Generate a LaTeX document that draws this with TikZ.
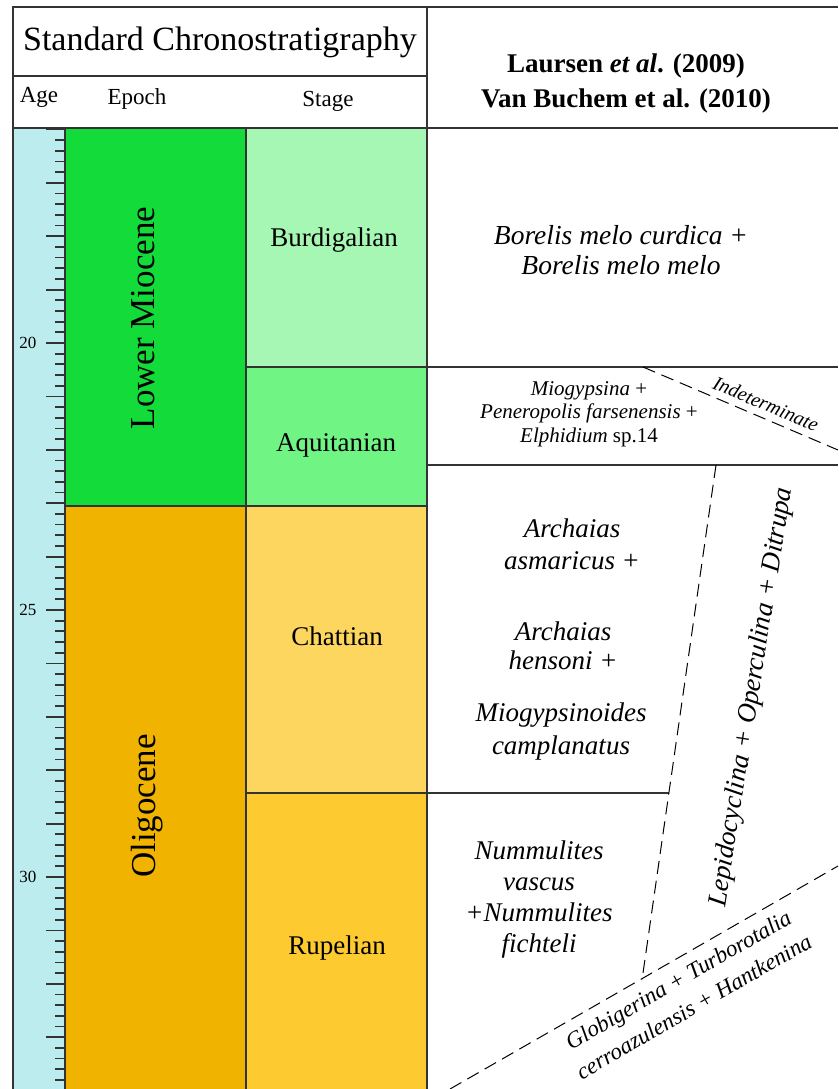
\documentclass[tikz,border=0pt]{standalone}
\usepackage{xcolor}
\usepackage{fontspec}
\setmainfont{Liberation Serif}
\usepackage{tikz}

\definecolor{agecol}{HTML}{BDECEE}
\definecolor{miocene}{HTML}{12DB3A}
\definecolor{burdigal}{HTML}{A6F7B3}
\definecolor{aquitan}{HTML}{70F484}
\definecolor{oligocene}{HTML}{F0B400}
\definecolor{chattian}{HTML}{FDD660}
\definecolor{rupelian}{HTML}{FDCA30}
\definecolor{rule}{HTML}{333333}

% font size and baseline skip, both in pt
\newcommand{\fsz}[2]{\fontsize{#1}{#2}\selectfont}

\begin{document}
\begin{tikzpicture}[x=1pt,y=-1pt]
\useasboundingbox (0,0) rectangle (838,1089);
% colour blocks
\fill[agecol] (13,128) rectangle (65,1089);
\fill[miocene] (65,128) rectangle (246,506);
\fill[oligocene] (65,506) rectangle (246,1089);
\fill[burdigal] (246,128) rectangle (427,367);
\fill[aquitan] (246,367) rectangle (427,506);
\fill[chattian] (246,506) rectangle (427,793);
\fill[rupelian] (246,793) rectangle (427,1089);
% age scale
\foreach \i in {0,...,89} {
  \pgfmathsetmacro{\ty}{129.4+10.68*\i}
  \pgfmathtruncatemacro{\md}{mod(\i,5)}
  \ifnum\md=0
    \draw[line width=1.8pt, rule] (46,\ty) -- (65,\ty);
  \else
    \draw[line width=1.8pt, rule] (55,\ty) -- (65,\ty);
  \fi
}
\node[font=\fsz{17}{20}] (a20) at (28,343) {20};
\node[font=\fsz{17}{20}] (a25) at (28,610) {25};
\node[font=\fsz{17}{20}] (a30) at (28,877) {30};
% frame
\draw[line width=1.6pt, rule] (13,1089) -- (13,7) -- (838,7);
\draw[line width=1.3pt, rule] (13,76) -- (427,76);
\draw[line width=1.6pt, rule] (13,128) -- (838,128);
\draw[line width=1.6pt, rule] (427,7) -- (427,1089);
\draw[line width=1.6pt, rule] (65,128) -- (65,1089);
\draw[line width=1.6pt, rule] (246,128) -- (246,1089);
\draw[line width=1.3pt, rule] (65,506) -- (246,506);
\draw[line width=1.3pt, rule] (246,367) -- (838,367);
\draw[line width=1.3pt, rule] (246,506) -- (427,506);
\draw[line width=1.3pt, rule] (427,465) -- (838,465);
\draw[line width=1.3pt, rule] (246,793) -- (669,793);
% zone boundaries
\draw[line width=1pt, dash pattern=on 13pt off 7pt] (643,367) -- (838,450);
\draw[line width=1pt, dash pattern=on 13pt off 7pt] (716,465) -- (642,980);
\draw[line width=1pt, dash pattern=on 13pt off 7pt] (450,1089) -- (838,866);
% header
\node[font=\fsz{34}{40}] (chrono) at (220,42) {Standard Chronostratigraphy};
\node[font=\fsz{23}{27}] (age) at (39,97) {Age};
\node[font=\fsz{23}{27}] (epoch) at (137,99) {Epoch};
\node[font=\fsz{23}{27}] (stage) at (328,101) {Stage};
\node[font=\fsz{27}{35}\bfseries, align=center, inner sep=0pt] (refs) at (626,84)
  {Laursen \textit{et al}. (2009)\\ Van Buchem et al. (2010)};
% epochs and stages
\node[font=\fsz{35}{40}, rotate=90] (lmio) at (143,318) {Lower Miocene};
\node[font=\fsz{35}{40}, rotate=90] (olig) at (147,806) {Oligocene};
\node[font=\fsz{27}{32}] (burd) at (334,240) {Burdigalian};
\node[font=\fsz{27}{32}] (aqui) at (336,445) {Aquitanian};
\node[font=\fsz{27}{32}] (chat) at (337,636) {Chattian};
\node[font=\fsz{27}{32}] (rupe) at (337,948) {Rupelian};
% biozones
\node[font=\fsz{27.5}{30}\itshape, align=center, inner sep=0pt] (borelis) at (621,250)
  {Borelis melo curdica +\\ Borelis melo melo};
\node[font=\fsz{21}{23.5}, align=center, inner sep=0pt] (miogyp) at (589,414)
  {\textit{Miogypsina} +\\ \textit{Peneropolis farsenensis} +\\ \textit{Elphidium} sp.14};
\node[font=\fsz{20}{24}\itshape, rotate=-23] (indet) at (766,404) {Indeterminate};
\node[font=\fsz{27}{32}\itshape, align=center, inner sep=0pt] (arch1) at (572,544)
  {Archaias\\ asmaricus +};
\node[font=\fsz{27}{29}\itshape, align=center, inner sep=0pt] (arch2) at (563,646)
  {Archaias\\ hensoni +};
\node[font=\fsz{27}{33}\itshape, align=center, inner sep=0pt] (mioides) at (561,731)
  {Miogypsinoides\\ camplanatus};
\node[font=\fsz{27}{31}\itshape, align=center, inner sep=0pt] (numm) at (539,899)
  {Nummulites\\ vascus\\ +Nummulites\\ fichteli};
\node[font=\fsz{27}{32}\itshape, rotate=81] (lepido) at (752,697)
  {Lepidocyclina + Operculina + Ditrupa};
\node[font=\fsz{23}{31}\itshape, align=center, rotate=30, inner sep=0pt] (globi) at (686,993)
  {Globigerina + Turborotalia\\ cerroazulensis + Hantkenina};
\end{tikzpicture}
\end{document}
